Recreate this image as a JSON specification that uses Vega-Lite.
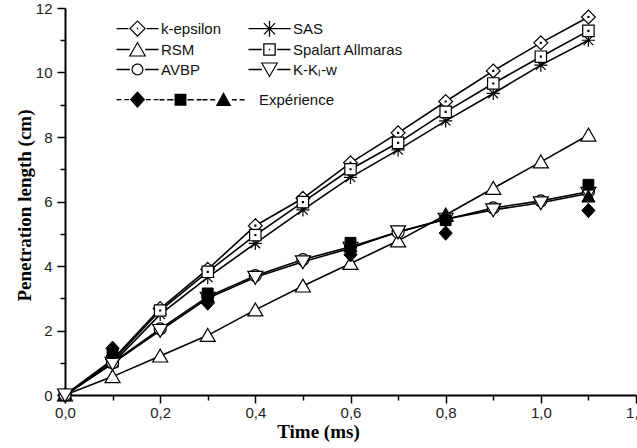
{
  "$schema": "https://vega.github.io/schema/vega-lite/v6.json",
  "width": 571,
  "height": 387,
  "autosize": {"type": "none"},
  "padding": {"left": 65, "top": 8, "right": 1, "bottom": 53},
  "background": "white",
  "config": {
    "view": {"stroke": null},
    "axis": {
      "domainColor": "black", "domainWidth": 2, "tickColor": "black", "tickWidth": 1.5,
      "labelFont": "Liberation Sans", "labelFontSize": 15, "labelColor": "#222",
      "grid": false, "titleFont": "Liberation Serif", "titleFontWeight": "bold",
      "titleFontSize": 19, "titleColor": "black", "labelFlush": false, "labelOverlap": false, "labelBound": false
    }
  },
  "datasets": {
    "models": [
      {"s": "k-epsilon", "t": 0, "v": 0}, {"s": "k-epsilon", "t": 0.1, "v": 1.1}, {"s": "k-epsilon", "t": 0.2, "v": 2.68}, {"s": "k-epsilon", "t": 0.3, "v": 3.9}, {"s": "k-epsilon", "t": 0.4, "v": 5.25}, {"s": "k-epsilon", "t": 0.5, "v": 6.1}, {"s": "k-epsilon", "t": 0.6, "v": 7.2}, {"s": "k-epsilon", "t": 0.7, "v": 8.13}, {"s": "k-epsilon", "t": 0.8, "v": 9.1}, {"s": "k-epsilon", "t": 0.9, "v": 10.05}, {"s": "k-epsilon", "t": 1.0, "v": 10.92}, {"s": "k-epsilon", "t": 1.1, "v": 11.72},
      {"s": "SAS", "t": 0, "v": 0}, {"s": "SAS", "t": 0.1, "v": 0.98}, {"s": "SAS", "t": 0.2, "v": 2.5}, {"s": "SAS", "t": 0.3, "v": 3.65}, {"s": "SAS", "t": 0.4, "v": 4.7}, {"s": "SAS", "t": 0.5, "v": 5.74}, {"s": "SAS", "t": 0.6, "v": 6.75}, {"s": "SAS", "t": 0.7, "v": 7.6}, {"s": "SAS", "t": 0.8, "v": 8.5}, {"s": "SAS", "t": 0.9, "v": 9.35}, {"s": "SAS", "t": 1.0, "v": 10.23}, {"s": "SAS", "t": 1.1, "v": 11.0},
      {"s": "RSM", "t": 0, "v": 0}, {"s": "RSM", "t": 0.1, "v": 0.57}, {"s": "RSM", "t": 0.2, "v": 1.21}, {"s": "RSM", "t": 0.3, "v": 1.85}, {"s": "RSM", "t": 0.4, "v": 2.64}, {"s": "RSM", "t": 0.5, "v": 3.38}, {"s": "RSM", "t": 0.6, "v": 4.08}, {"s": "RSM", "t": 0.7, "v": 4.78}, {"s": "RSM", "t": 0.8, "v": 5.58}, {"s": "RSM", "t": 0.9, "v": 6.41}, {"s": "RSM", "t": 1.0, "v": 7.23}, {"s": "RSM", "t": 1.1, "v": 8.06},
      {"s": "Spalart Allmaras", "t": 0, "v": 0}, {"s": "Spalart Allmaras", "t": 0.1, "v": 1.05}, {"s": "Spalart Allmaras", "t": 0.2, "v": 2.62}, {"s": "Spalart Allmaras", "t": 0.3, "v": 3.82}, {"s": "Spalart Allmaras", "t": 0.4, "v": 4.96}, {"s": "Spalart Allmaras", "t": 0.5, "v": 5.98}, {"s": "Spalart Allmaras", "t": 0.6, "v": 7.0}, {"s": "Spalart Allmaras", "t": 0.7, "v": 7.82}, {"s": "Spalart Allmaras", "t": 0.8, "v": 8.78}, {"s": "Spalart Allmaras", "t": 0.9, "v": 9.66}, {"s": "Spalart Allmaras", "t": 1.0, "v": 10.49}, {"s": "Spalart Allmaras", "t": 1.1, "v": 11.29},
      {"s": "AVBP", "t": 0, "v": 0}, {"s": "AVBP", "t": 0.1, "v": 1.0}, {"s": "AVBP", "t": 0.2, "v": 2.05}, {"s": "AVBP", "t": 0.3, "v": 3.05}, {"s": "AVBP", "t": 0.4, "v": 3.7}, {"s": "AVBP", "t": 0.5, "v": 4.2}, {"s": "AVBP", "t": 0.6, "v": 4.6}, {"s": "AVBP", "t": 0.7, "v": 5.05}, {"s": "AVBP", "t": 0.8, "v": 5.45}, {"s": "AVBP", "t": 0.9, "v": 5.8}, {"s": "AVBP", "t": 1.0, "v": 6.02}, {"s": "AVBP", "t": 1.1, "v": 6.3},
      {"s": "K-Kₗ-w", "t": 0, "v": 0}, {"s": "K-Kₗ-w", "t": 0.1, "v": 0.98}, {"s": "K-Kₗ-w", "t": 0.2, "v": 2.0}, {"s": "K-Kₗ-w", "t": 0.3, "v": 3.0}, {"s": "K-Kₗ-w", "t": 0.4, "v": 3.65}, {"s": "K-Kₗ-w", "t": 0.5, "v": 4.13}, {"s": "K-Kₗ-w", "t": 0.6, "v": 4.55}, {"s": "K-Kₗ-w", "t": 0.7, "v": 5.06}, {"s": "K-Kₗ-w", "t": 0.8, "v": 5.45}, {"s": "K-Kₗ-w", "t": 0.9, "v": 5.74}, {"s": "K-Kₗ-w", "t": 1.0, "v": 5.96}, {"s": "K-Kₗ-w", "t": 1.1, "v": 6.25}
    ],
    "exp": [
      {"s": "Exp1", "t": 0.1, "v": 1.45}, {"s": "Exp1", "t": 0.3, "v": 2.85}, {"s": "Exp1", "t": 0.6, "v": 4.35}, {"s": "Exp1", "t": 0.8, "v": 5.02}, {"s": "Exp1", "t": 1.1, "v": 5.72},
      {"s": "Exp2", "t": 0.1, "v": 1.3}, {"s": "Exp2", "t": 0.3, "v": 3.15}, {"s": "Exp2", "t": 0.6, "v": 4.72}, {"s": "Exp2", "t": 0.8, "v": 5.42}, {"s": "Exp2", "t": 1.1, "v": 6.52},
      {"s": "Exp3", "t": 0.1, "v": 1.35}, {"s": "Exp3", "t": 0.3, "v": 3.05}, {"s": "Exp3", "t": 0.6, "v": 4.6}, {"s": "Exp3", "t": 0.8, "v": 5.55}, {"s": "Exp3", "t": 1.1, "v": 6.15}
    ]
  },
  "layer": [
    {
      "data": {"name": "models"},
      "mark": {"type": "point", "opacity": 0},
      "encoding": {
        "x": {"field": "t", "type": "quantitative", "scale": {"domain": [0, 1.2], "nice": false, "zero": false},
              "axis": {"orient": "bottom", "values": [0.1, 0.3, 0.5, 0.7, 0.9, 1.1], "tickSize": 5, "labels": false, "domain": false, "title": null}},
        "y": {"field": "v", "type": "quantitative", "scale": {"domain": [0, 12], "nice": false, "zero": false},
              "axis": {"orient": "left", "values": [1, 3, 5, 7, 9, 11], "tickSize": 5, "labels": false, "domain": false, "title": null}}
      }
    },
    {
      "layer": [
        {
          "data": {"name": "models"},
          "mark": {"type": "line", "color": "black", "strokeWidth": 1.6},
          "encoding": {
            "x": {"field": "t", "type": "quantitative", "scale": {"domain": [0, 1.2], "nice": false, "zero": false},
                  "axis": {"orient": "bottom", "values": [0, 0.2, 0.4, 0.6, 0.8, 1.0, 1.2], "tickSize": 8, "labelPadding": 2,
                           "labelExpr": "replace(format(datum.value, '.1f'), '.', ',')",
                           "title": "Time (ms)", "titleX": 253, "titleY": 27, "titleAlign": "center"}},
            "y": {"field": "v", "type": "quantitative", "scale": {"domain": [0, 12], "nice": false, "zero": false},
                  "axis": {"orient": "left", "values": [0, 2, 4, 6, 8, 10, 12], "tickSize": 8, "labelPadding": 5, "format": "d",
                           "title": "Penetration length (cm)", "titleX": -41, "titleY": 197, "titleAngle": -90, "titleAlign": "center", "titleBaseline": "middle"}},
            "detail": {"field": "s"}
          }
        },
        {
          "data": {"name": "models"},
          "mark": {"type": "point", "filled": true, "fill": "white", "stroke": "black", "strokeWidth": 1.2, "size": 144, "opacity": 1},
          "encoding": {
            "x": {"field": "t", "type": "quantitative"},
            "y": {"field": "v", "type": "quantitative"},
            "shape": {
              "field": "s", "type": "nominal",
              "scale": {
                "domain": ["k-epsilon", "RSM", "AVBP", "SAS", "Spalart Allmaras", "K-Kₗ-w"],
                "range": [
                  "M0,-1.15L1.15,0L0,1.15L-1.15,0ZM-0.08,-0.08L0.08,-0.08L0.08,0.08L-0.08,0.08Z",
                  "M0,-1.15L1.25,1L-1.25,1Z",
                  "M1,0A1,1,0,1,1,-1,0A1,1,0,1,1,1,0Z",
                  "M0,-1.1L0,1.1M-1.1,0L1.1,0M-0.8,-0.8L0.8,0.8M-0.8,0.8L0.8,-0.8",
                  "M-0.95,-0.95L0.95,-0.95L0.95,0.95L-0.95,0.95ZM-0.08,-0.08L0.08,-0.08L0.08,0.08L-0.08,0.08Z",
                  "M0,1.15L1.25,-1L-1.25,-1Z"
                ]
              },
              "legend": null
            }
          }
        },
        {
          "data": {"name": "exp"},
          "mark": {"type": "point", "filled": true, "fill": "black", "stroke": "black", "strokeWidth": 1, "size": 144, "opacity": 1},
          "encoding": {
            "x": {"field": "t", "type": "quantitative"},
            "y": {"field": "v", "type": "quantitative"},
            "shape": {
              "field": "s", "type": "nominal",
              "scale": {
                "domain": ["Exp1", "Exp2", "Exp3"],
                "range": ["M0,-1.2L1.1,0L0,1.2L-1.1,0Z", "M-0.9,-0.9L0.9,-0.9L0.9,0.9L-0.9,0.9Z", "M0,-1.1L1.1,0.9L-1.1,0.9Z"]
              },
              "legend": null
            }
          }
        },
        {
          "data": {"name": "models"},
          "mark": {"type": "point", "opacity": 0, "color": "black"},
          "encoding": {
            "x": {"field": "t", "type": "quantitative"},
            "y": {"field": "v", "type": "quantitative"},
            "fill": {"value": "black"},
            "shape": {
              "field": "s", "type": "nominal",
              "scale": {
                "domain": ["k-epsilon", "RSM", "AVBP", "SAS", "Spalart Allmaras", "K-Kₗ-w"],
                "range": [
                  "M-3,-0.09H-1.3V0.09H-3ZM1.3,-0.09H3V0.09H1.3ZM0,-1.2L1.2,0L0,1.2L-1.2,0ZM0,-0.96L-0.96,0L0,0.96L0.96,0ZM-0.1,-0.1H0.1V0.1H-0.1Z",
                  "M-3,-0.09H-1.1V0.09H-3ZM1.1,-0.09H3V0.09H1.1ZM0,-1.15L1.25,1L-1.25,1ZM0,-0.82L-0.98,0.84L0.98,0.84Z",
                  "M-3,-0.09H-1.1V0.09H-3ZM1.1,-0.09H3V0.09H1.1ZM0.85,0A0.85,0.85,0,1,1,-0.85,0A0.85,0.85,0,1,1,0.85,0ZM0.68,0A0.68,0.68,0,1,0,-0.68,0A0.68,0.68,0,1,0,0.68,0Z",
                  "M-3,-0.09H3V0.09H-3ZM-0.09,-1.15H0.09V1.15H-0.09ZM-0.736,-0.864L0.864,0.736L0.736,0.864L-0.864,-0.736ZM-0.864,0.736L0.736,-0.864L0.864,-0.736L-0.736,0.864Z",
                  "M-3,-0.09H-1.1V0.09H-3ZM1.1,-0.09H3V0.09H1.1ZM-0.9,-0.9H0.9V0.9H-0.9ZM-0.72,-0.72V0.72H0.72V-0.72ZM-0.1,-0.1H0.1V0.1H-0.1Z",
                  "M-3,-0.09H-1.1V0.09H-3ZM1.1,-0.09H3V0.09H1.1ZM0,1.15L-1.25,-1L1.25,-1ZM0,0.82L0.98,-0.84L-0.98,-0.84Z"
                ]
              },
              "legend": {
                "orient": "none", "legendX": 65, "legendY": 13, "columns": 2, "title": null,
                "labelFont": "Liberation Sans", "labelFontSize": 15, "labelColor": "#111",
                "symbolSize": 196, "symbolFillColor": "black", "symbolStrokeColor": "black", "symbolStrokeWidth": 0, "symbolOpacity": 1,
                "labelOffset": 16, "columnPadding": 26, "rowPadding": 4, "padding": 0
              }
            }
          }
        },
        {
          "data": {"name": "exp"},
          "mark": {"type": "point", "opacity": 0, "color": "black"},
          "encoding": {
            "x": {"field": "t", "type": "quantitative"},
            "y": {"field": "v", "type": "quantitative"},
            "fill": {"value": "black"},
            "shape": {
              "field": "s", "type": "nominal",
              "scale": {
                "domain": ["Exp1", "Exp2", "Exp3"],
                "range": [
                  "M-3,-0.09H-2.3V0.09H-3ZM-1.9,-0.09H-1.2V0.09H-1.9ZM1.2,-0.09H1.9V0.09H1.2ZM2.3,-0.09H3V0.09H2.3ZM0,-1.2L1.1,0L0,1.2L-1.1,0Z",
                  "M-3,-0.09H-2.3V0.09H-3ZM-1.9,-0.09H-1.0V0.09H-1.9ZM1.0,-0.09H1.9V0.09H1.0ZM2.3,-0.09H3V0.09H2.3ZM-0.85,-0.85H0.85V0.85H-0.85Z",
                  "M-3,-0.09H-2.3V0.09H-3ZM-1.9,-0.09H-1.2V0.09H-1.9ZM1.2,-0.09H1.9V0.09H1.2ZM2.3,-0.09H3V0.09H2.3ZM0,-1.1L1.1,0.9L-1.1,0.9Z"
                ]
              },
              "legend": {
                "orient": "none", "legendX": 65, "legendY": 84, "columns": 3, "title": null,
                "labelFont": "Liberation Sans", "labelFontSize": 15, "labelColor": "#111",
                "labelExpr": "datum.label === 'Exp3' ? 'Expérience' : ''",
                "symbolSize": 196, "symbolFillColor": "black", "symbolStrokeColor": "black", "symbolStrokeWidth": 0, "symbolOpacity": 1,
                "labelOffset": 28, "columnPadding": -16, "padding": 0
              }
            }
          }
        }
      ],
      "resolve": {"scale": {"shape": "independent"}, "legend": {"shape": "independent"}}
    }
  ],
  "resolve": {"axis": {"x": "independent", "y": "independent"}}
}
